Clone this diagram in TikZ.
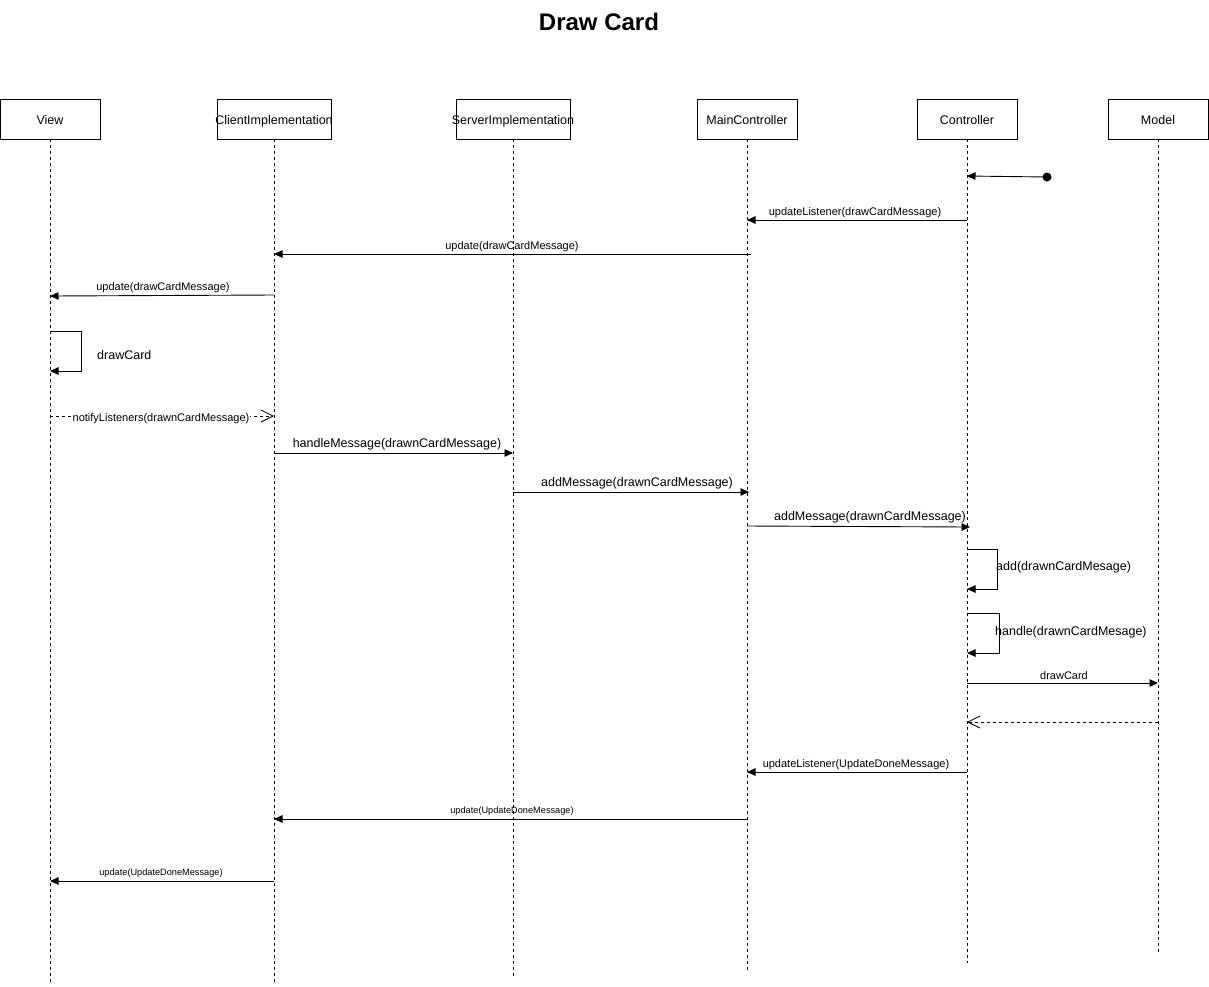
\documentclass[tikz,border=0pt]{standalone}
\usepackage{fontspec}
\setmainfont{Liberation Sans}
\usetikzlibrary{arrows.meta}
\begin{document}
\begin{tikzpicture}[x=1pt,y=-1pt,
  lbox/.style={draw,line width=0.8pt,minimum width=100pt,minimum height=40pt,inner sep=0pt,text height=11pt,text depth=0pt,font=\fontsize{12.5}{14}\selectfont},
  life/.style={line width=0.8pt,dash pattern=on 3pt off 3pt},
  msg/.style={line width=0.9pt,-{Triangle[length=8.5pt,width=7.5pt]}},
  ret/.style={line width=0.8pt,dash pattern=on 3pt off 3pt,-{Straight Barb[length=12pt,width=12pt,line width=0.8pt]}},
  lab/.style={font=\fontsize{11}{13}\selectfont,inner sep=0pt,yshift=-1.5pt},
  labm/.style={font=\fontsize{12.5}{14}\selectfont,inner sep=0pt,yshift=-1.5pt},
  labs/.style={font=\fontsize{9.2}{11}\selectfont,inner sep=0pt,yshift=-1.5pt}]
\useasboundingbox (0,0) rectangle (1209,986);
\node[font=\bfseries\fontsize{24}{28}\selectfont] (title) at (599,22) {Draw Card};
% lifeline heads
\node[lbox] (view) at (50,119) {View};
\node[lbox,minimum width=114pt] (client) at (274,119) {\makebox[0pt]{ClientImplementation}};
\node[lbox,minimum width=114pt] (server) at (513,119) {\makebox[0pt]{ServerImplementation}};
\node[lbox] (main) at (747,119) {MainController};
\node[lbox] (ctrl) at (967,119) {Controller};
\node[lbox] (model) at (1158,119) {Model};
% lifeline ends
\coordinate (viewE) at (50,983);
\coordinate (clientE) at (274,983);
\coordinate (serverE) at (513,977);
\coordinate (mainE) at (747,970);
\coordinate (ctrlE) at (967,963);
\coordinate (modelE) at (1158,952);
\draw[life] (view.south) -- (viewE);
\draw[life] (client.south) -- (clientE);
\draw[life] (server.south) -- (serverE);
\draw[life] (main.south) -- (mainE);
\draw[life] (ctrl.south) -- (ctrlE);
\draw[life] (model.south) -- (modelE);
% found message
\coordinate (start) at (1047,177);
\fill (start) circle (4.5pt);
\draw[msg] (start) -- (ctrl |- 0,176);
% 2
\draw[msg] (ctrl |- 0,220) -- (main |- 0,220);
\node[lab] (l2) at (855,211) {updateListener(drawCardMessage)};
% 3
\draw[msg] (751,254) -- (client |- 0,254);
\node[lab] (l3) at (512,245) {update(drawCardMessage)};
% 4
\draw[msg] (client |- 0,295) -- (view |- 0,296);
\node[lab] (l4) at (163,286) {update(drawCardMessage)};
% self drawCard
\draw[msg] (view |- 0,331) -- (81,331) -- (81,371) -- (view |- 0,371);
\node[labm,anchor=west] (l5) at (97,354) {drawCard};
% notify
\draw[ret] (view |- 0,416) -- (client |- 0,416);
\node[lab,fill=white,inner sep=1pt] (l6) at (161,417) {notifyListeners(drawnCardMessage)};
% handleMessage
\draw[msg] (client |- 0,453) -- (server |- 0,453);
\node[labm] (l7) at (397,443) {handleMessage(drawnCardMessage)};
% addMessage
\draw[msg] (server |- 0,492) -- (749,492);
\node[labm] (l8) at (637,482) {addMessage(drawnCardMessage)};
% addMessage 2
\draw[msg] (main |- 0,526) -- (970,527);
\node[labm] (l9) at (870,516) {addMessage(drawnCardMessage)};
% self add
\draw[msg] (ctrl |- 0,549) -- (997,549) -- (997,589) -- (ctrl |- 0,589);
\node[labm,anchor=west] (l10) at (996,566) {add(drawnCardMesage)};
% self handle
\draw[msg] (ctrl |- 0,613) -- (999,613) -- (999,653) -- (ctrl |- 0,653);
\node[labm,anchor=west] (l11) at (995,631) {handle(drawnCardMesage)};
% drawCard
\draw[msg] (ctrl |- 0,683) -- (model |- 0,683);
\node[lab] (l12) at (1064,674) {drawCard};
% return
\draw[ret] (model |- 0,722) -- (ctrl |- 0,722);
% updateListener done
\draw[msg] (ctrl |- 0,772) -- (main |- 0,772);
\node[lab] (l14) at (856,763) {updateListener(UpdateDoneMessage)};
% update done
\draw[msg] (main |- 0,819) -- (client |- 0,819);
\node[labs] (l15) at (512,810) {update(UpdateDoneMessage)};
% update done 2
\draw[msg] (client |- 0,881) -- (view |- 0,881);
\node[labs] (l16) at (161,872) {update(UpdateDoneMessage)};
\end{tikzpicture}
\end{document}
